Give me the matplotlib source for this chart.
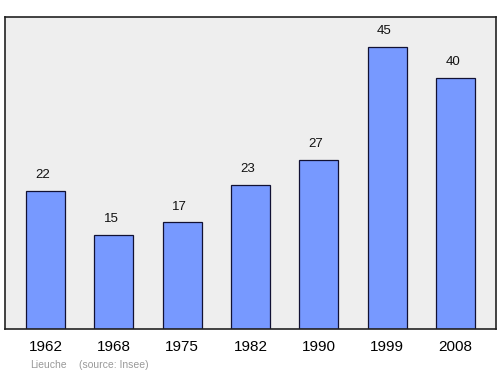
import matplotlib
matplotlib.use("Agg")
import matplotlib.pyplot as plt

plt.rcParams['font.family'] = ['Liberation Sans', 'DejaVu Sans']

years = ["1962", "1968", "1975", "1982", "1990", "1999", "2008"]
population = [22, 15, 17, 23, 27, 45, 40]

fig = plt.figure(figsize=(5, 3.74), dpi=100)
ax = fig.add_axes([5 / 500, 1 - 329 / 374, 491 / 500, 312 / 374])
ax.set_facecolor("#eeeeee")

x = range(len(years))
ax.bar(x, population, width=0.57, color="#7799ff", edgecolor="#111133", linewidth=0.9)

for i, v in zip(x, population):
    ax.annotate(str(v), (i, v), xytext=(-2, 7), textcoords="offset points",
                ha="center", va="bottom", fontsize=9.5, color="#111111")

ax.set_xlim(-0.592, 6.592)
ax.set_ylim(0, 49.7)
ax.set_xticks(list(x))
ax.set_xticklabels(years, fontsize=11)
ax.tick_params(axis="x", length=0, pad=8)
ax.set_yticks([])
for s in ax.spines.values():
    s.set_linewidth(1.2)
    s.set_color("#222222")

fig.text(30 / 500, 1 - 365 / 374, "Lieuche", fontsize=7.5, color="#999999", va="center")
fig.text(79 / 500, 1 - 365 / 374, "(source: Insee)", fontsize=7.5, color="#999999", va="center")

fig.savefig("out.png", dpi=100)
